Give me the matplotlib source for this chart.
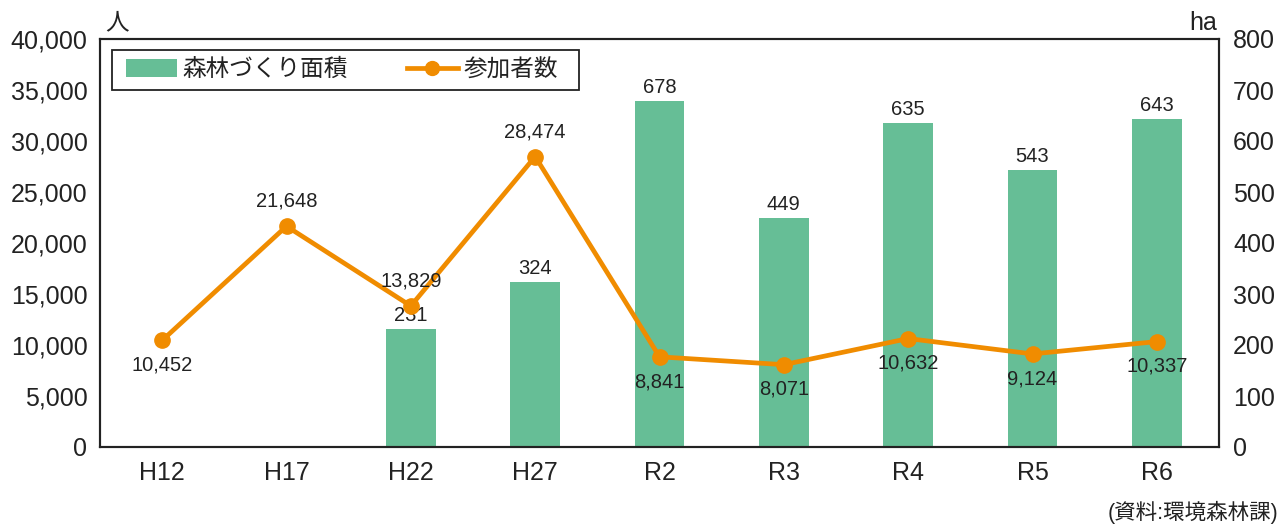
import matplotlib.pyplot as plt
from matplotlib.patches import Patch, Rectangle
from matplotlib.lines import Line2D
import numpy as np

# Latin text in a Helvetica-like face, Japanese falls back to Noto CJK.
plt.rcParams['font.family'] = ['Liberation Sans', 'Noto Sans CJK JP']

# Data.
years = ["H12", "H17", "H22", "H27", "R2", "R3", "R4", "R5", "R6"]
area_ha = [np.nan, np.nan, 231, 324, 678, 449, 635, 543, 643]
people = [10452, 21648, 13829, 28474, 8841, 8071, 10632, 9124, 10337]
# Where the people label sits: above or below the marker.
label_above = [False, True, True, True, False, False, False, False, False]

bar_color = "#66be96"
line_color = "#f08c00"
bg_color = "#fcf6e1"
text_color = "#222222"

W, H = 1283, 526
fig = plt.figure(figsize=(W / 100, H / 100), dpi=100)
ax = fig.add_axes([100 / W, 1 - 447 / H, 1119 / W, 408 / H])
ax2 = ax.twinx()

x = np.arange(len(years))

# Bars go on the right (ha) axis, drawn first so the line stays on top.
ax2.set_facecolor(bg_color)
for g in range(100, 800, 100):
    ax2.axhline(g, color="white", lw=1.2, zorder=1)
ax2.bar(x, area_ha, width=0.4, color=bar_color, zorder=2)
for xi, v in zip(x, area_ha):
    if not np.isnan(v):
        ax2.annotate(f"{int(v)}", (xi, v), xytext=(0, 3), textcoords="offset points",
                     ha="center", va="bottom", fontsize=14.5, color=text_color)
ax2.set_ylim(0, 800)
ax2.set_yticks(range(0, 801, 100))
ax2.tick_params(axis="y", length=0, labelsize=18, pad=10, labelcolor=text_color)

ax.set_zorder(ax2.get_zorder() + 1)
ax.patch.set_visible(False)

ax.plot(x, people, color=line_color, lw=3.4, marker="o", markersize=11, zorder=3)
for xi, v, up in zip(x, people, label_above):
    if up:
        ax.annotate(f"{v:,}", (xi, v), xytext=(0, 11), textcoords="offset points",
                    ha="center", va="bottom", fontsize=14.5, color=text_color)
    else:
        ax.annotate(f"{v:,}", (xi, v), xytext=(0, -11), textcoords="offset points",
                    ha="center", va="top", fontsize=14.5, color=text_color)

ax.set_ylim(0, 40000)
ax.set_yticks(range(0, 40001, 5000))
ax.set_yticklabels([f"{t:,}" for t in range(0, 40001, 5000)])
ax.tick_params(axis="y", length=0, labelsize=18, pad=9, labelcolor=text_color)
ax.set_xlim(-0.5, len(years) - 0.5)
ax.set_xticks(x)
ax.set_xticklabels(years)
ax.tick_params(axis="x", length=0, labelsize=18, pad=10, labelcolor=text_color)

for a in (ax, ax2):
    for s in a.spines.values():
        s.set_linewidth(1.5)
        s.set_color(text_color)

# Unit labels above the axes.
fig.text(105 / W, 1 - 23 / H, "人", fontsize=17, ha="left", va="center",
         color=text_color)
fig.text(1217 / W, 1 - 23 / H, "ha", fontsize=18, ha="right", va="center",
         color=text_color)

# Legend: white box drawn by hand, legend entries laid over it.
fig.patches.append(Rectangle((112 / W, 1 - 90 / H), 467 / W, 40 / H,
                             transform=fig.transFigure, facecolor="white",
                             edgecolor=text_color, lw=1.3, zorder=4))
handles = [
    Patch(facecolor=bar_color, label="森林づくり面積"),
    Line2D([0], [0], color=line_color, lw=3.4, marker="o", markersize=10, label="参加者数"),
]
leg = fig.legend(handles=handles, loc="center left", ncol=2, fontsize=17,
                 frameon=False, bbox_to_anchor=(126 / W, 1 - 70 / H),
                 bbox_transform=fig.transFigure, borderaxespad=0, borderpad=0,
                 handlelength=2.15, handleheight=0.78, handletextpad=0.25,
                 columnspacing=2.5)
leg.set_zorder(5)
for t in leg.get_texts():
    t.set_color(text_color)

fig.text(1278 / W, 1 - 512 / H, "(資料:環境森林課)", fontsize=15.5,
         ha="right", va="center", color=text_color)

fig.savefig("out.png", dpi=100)
